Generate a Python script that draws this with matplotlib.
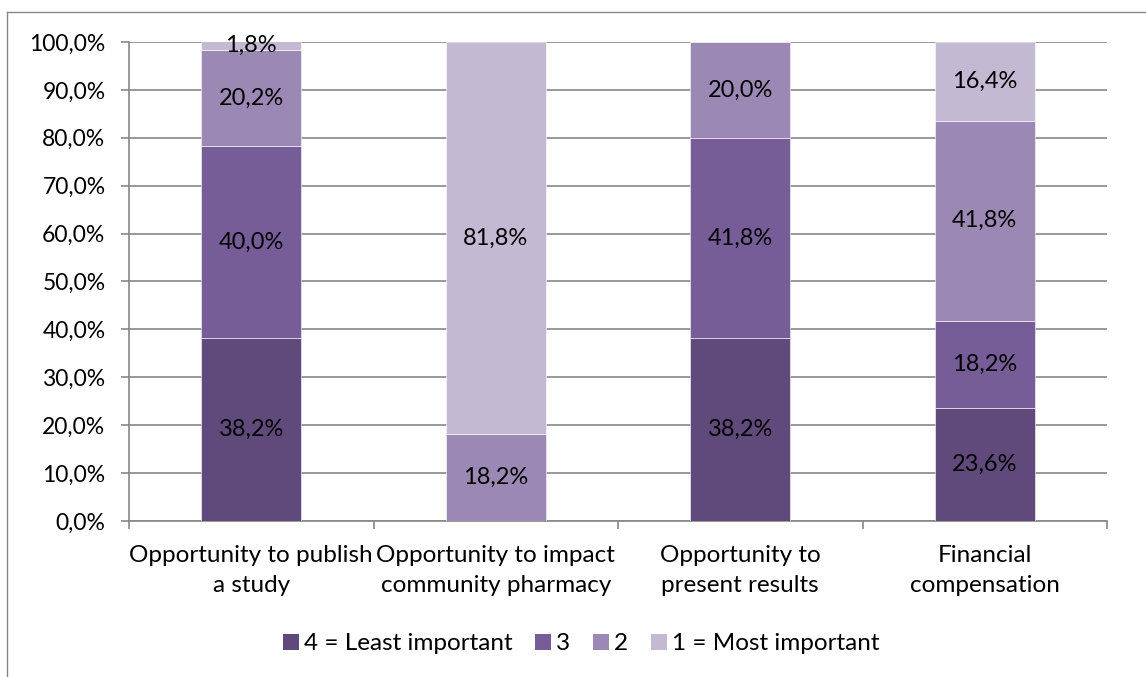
import matplotlib.pyplot as plt
import numpy as np
from matplotlib.lines import Line2D
from matplotlib.patches import Patch

categories = ['Opportunity to publish\na study', 'Opportunity to impact\ncommunity pharmacy',
              'Opportunity to\npresent results', 'Financial\ncompensation']
series_names = ['4 = Least important', '3', '2', '1 = Most important']
least = [38.2, 0.0, 38.2, 23.6]
three = [40.0, 0.0, 41.8, 18.2]
two = [20.2, 18.2, 20.0, 41.8]
most = [1.8, 81.8, 0.0, 16.4]
colors = ['#604a7b', '#775d97', '#9b88b4', '#c4b9d3']

plt.rcParams['font.family'] = ['Lato', 'DejaVu Sans']
plt.rcParams['font.size'] = 17

fig = plt.figure(figsize=(11.46, 6.77), dpi=100)
ax = fig.add_axes([0.1126, 0.2304, 0.8534, 0.7076])

x = np.arange(len(categories))
bottom = np.zeros(len(categories))
for vals, name, col in zip([least, three, two, most], series_names, colors):
    vals = np.array(vals)
    ax.bar(x, vals, width=0.41, bottom=bottom, color=col, label=name, zorder=3,
           edgecolor='white', linewidth=0.4)
    for xi, b, v in zip(x, bottom, vals):
        if v > 0:
            ax.text(xi, b + v / 2, f'{v:.1f}%'.replace('.', ','), ha='center', va='center',
                    fontsize=17, zorder=4)
    bottom += vals

ax.set_xlim(-0.5, len(categories) - 0.5)
ax.set_ylim(0, 100)
ax.set_yticks(np.arange(0, 101, 10))
ax.set_yticklabels([f'{v:.1f}%'.replace('.', ',') for v in np.arange(0, 101, 10)], fontsize=16.5)
ax.yaxis.grid(True, color='#878787', linewidth=1.2, zorder=0)
ax.set_xticks(x)
ax.set_xticklabels(categories, linespacing=1.55, fontsize=17.5)
ax.tick_params(axis='x', length=0, pad=17)
ax.set_xticks(np.arange(-0.5, len(categories)), minor=True)
ax.tick_params(axis='x', which='minor', length=6, color='#878787', width=1.2)
ax.tick_params(axis='y', length=6, color='#878787', width=1.2, pad=11)
for s in ['top', 'right']:
    ax.spines[s].set_visible(False)
for s in ['left', 'bottom']:
    ax.spines[s].set_color('#878787')
    ax.spines[s].set_linewidth(1.2)

handles = [Patch(facecolor=c, label=n) for c, n in zip(colors, series_names)]
fig.legend(handles=handles, loc='center', bbox_to_anchor=(0.507, 0.049), ncol=4, frameon=False,
           handlelength=0.65, handleheight=0.65, handletextpad=0.2, columnspacing=0.95, fontsize=17.5)

# chart frame
fig.add_artist(Line2D([7 / 1146, 7 / 1146], [0, 1 - 12 / 677], color='#878787', linewidth=1))
fig.add_artist(Line2D([7 / 1146, 1], [1 - 12 / 677, 1 - 12 / 677], color='#878787', linewidth=1))

fig.savefig('out.png', dpi=100)
